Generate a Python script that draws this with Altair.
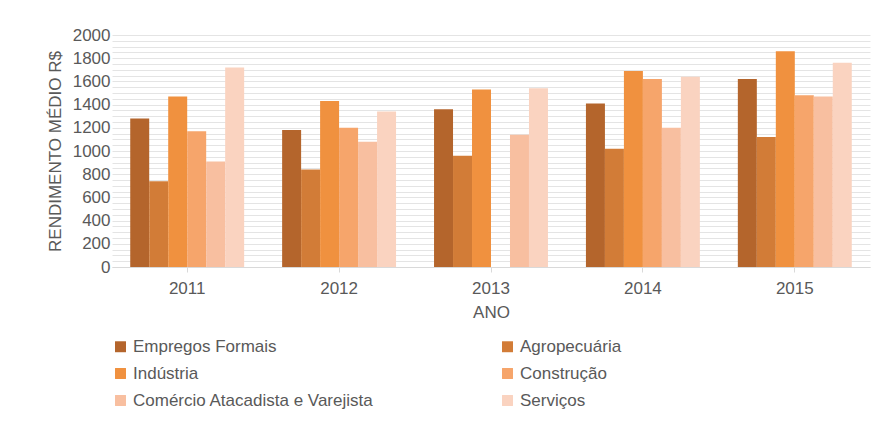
import altair as alt
import pandas as pd

anos = ["2011", "2012", "2013", "2014", "2015"]
series = ["Empregos Formais", "Agropecuária", "Indústria", "Construção",
          "Comércio Atacadista e Varejista", "Serviços"]
cores = ["#B4652C", "#D27C37", "#F0913F", "#F6A56B", "#F8BFA0", "#FAD3C0"]
valores = {
    "Empregos Formais": [1280, 1180, 1360, 1410, 1620],
    "Agropecuária": [740, 840, 960, 1020, 1120],
    "Indústria": [1470, 1430, 1530, 1690, 1860],
    "Construção": [1170, 1200, None, 1620, 1480],
    "Comércio Atacadista e Varejista": [910, 1080, 1140, 1200, 1470],
    "Serviços": [1720, 1340, 1540, 1640, 1760],
}

rows = []
for s in series:
    for a, v in zip(anos, valores[s]):
        if v is not None:
            rows.append({"ano": a, "serie": s, "valor": v})
df = pd.DataFrame(rows)

chart = (
    alt.Chart(df)
    .mark_bar()
    .encode(
        x=alt.X("ano:N", title="ANO", scale=alt.Scale(paddingInner=0.25, paddingOuter=0.12),
                axis=alt.Axis(labelAngle=0, ticks=True, tickColor="#d9d9d9", domainColor="#d9d9d9",
                              labelPadding=8, titlePadding=8)),
        xOffset=alt.XOffset("serie:N", sort=series),
        y=alt.Y("valor:Q", title="RENDIMENTO MÉDIO R$",
                scale=alt.Scale(domain=[0, 2000], nice=False),
                axis=alt.Axis(values=list(range(0, 2001, 50)),
                              labelExpr="datum.value % 200 == 0 ? datum.value : ''",
                              ticks=False, domain=False, gridColor="#e4e4e4", titlePadding=8)),
        color=alt.Color("serie:N", sort=series, title=None,
                        scale=alt.Scale(domain=series, range=cores),
                        legend=alt.Legend(orient="bottom", direction="horizontal", columns=2,
                                          columnPadding=125, rowPadding=9, symbolType="square",
                                          symbolSize=120, labelFontSize=17, labelLimit=400,
                                          labelColor="#595959", offset=18)),
    )
    .properties(width=758, height=232)
    .configure_axis(labelFontSize=17, titleFontSize=17, labelColor="#595959",
                    titleColor="#595959", titleFontWeight="normal", labelFont="Liberation Sans",
                    titleFont="Liberation Sans")
    .configure_legend(labelFont="Liberation Sans")
    .configure_view(stroke=None)
    .properties(padding={"left": 38, "top": 18, "right": 5, "bottom": 5})
)

chart.save("out.html", embed_options={"renderer": "svg", "actions": False})
